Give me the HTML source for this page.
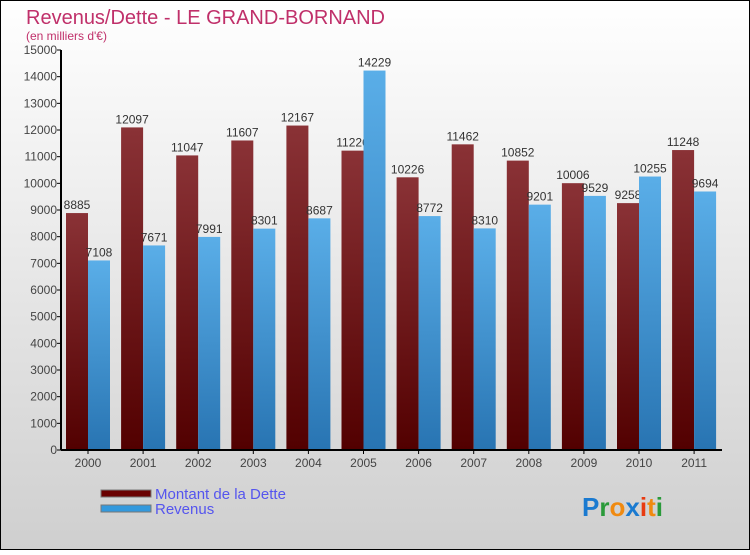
<!DOCTYPE html>
<html><head><meta charset="utf-8"><style>
body{margin:0;width:750px;height:550px;overflow:hidden;font-family:"Liberation Sans",sans-serif}
</style></head><body>
<svg width="750" height="550" xmlns="http://www.w3.org/2000/svg">
<defs>
<linearGradient id="bg" x1="0" y1="0" x2="0" y2="1"><stop offset="0" stop-color="#ffffff"/><stop offset="1" stop-color="#cfcfcf"/></linearGradient>
<linearGradient id="gd" x1="0" y1="0" x2="0" y2="1"><stop offset="0" stop-color="#8a3236"/><stop offset="1" stop-color="#520000"/></linearGradient>
<linearGradient id="gr" x1="0" y1="0" x2="0" y2="1"><stop offset="0" stop-color="#5aaee8"/><stop offset="1" stop-color="#2874b2"/></linearGradient>
</defs>
<rect x="0.5" y="0.5" width="749" height="549" fill="url(#bg)" stroke="#000"/>
<text x="26" y="24" font-size="20" fill="#c0306a">Revenus/Dette - LE GRAND-BORNAND</text>
<text x="26" y="40" font-size="12" fill="#c0306a">(en milliers d'€)</text>
<g id="yaxis"></g><g id="bars"></g>
<line x1="61" y1="50" x2="61" y2="450" stroke="#000" stroke-width="2"/>
<line x1="61" y1="450" x2="722" y2="450" stroke="#000" stroke-width="2"/>
<g>
<rect x="101" y="490" width="50" height="7" fill="#6a0000" stroke="#777"/>
<text x="155" y="499" font-size="15" fill="#5555ee">Montant de la Dette</text>
<rect x="101" y="505" width="50" height="7" fill="#3399dd" stroke="#777"/>
<text x="155" y="514" font-size="15" fill="#5555ee">Revenus</text>
</g>
<text x="582" y="516" font-size="26" font-weight="bold"><tspan fill="#1a7ad0">P</tspan><tspan fill="#2a9a3a">r</tspan><tspan fill="#f08a10">o</tspan><tspan fill="#1a7ad0">x</tspan><tspan fill="#e83a10">i</tspan><tspan fill="#f08a10">t</tspan><tspan fill="#2a9a3a">i</tspan></text>
</svg>
<script>
const years=["2000","2001","2002","2003","2004","2005","2006","2007","2008","2009","2010","2011"];
const dette=[8885,12097,11047,11607,12167,11226,10226,11462,10852,10006,9258,11248];
const revenus=[7108,7671,7991,8301,8687,14229,8772,8310,9201,9529,10255,9694];
const yTicks=[0,1000,2000,3000,4000,5000,6000,7000,8000,9000,10000,11000,12000,13000,14000,15000];
const NS="http://www.w3.org/2000/svg";
const y=v=>450-v*400/15000;
const gx=i=>61+i*55.1;
function mk(t,a,p,txt){const e=document.createElementNS(NS,t);for(const k in a)e.setAttribute(k,a[k]);if(txt!==undefined)e.textContent=txt;p.appendChild(e);return e;}
const ya=document.getElementById('yaxis');
yTicks.forEach(v=>{
 const l=mk('line',{x1:57,x2:61,y1:y(v),y2:y(v),stroke:'#000'},ya);
 
 
 const t=mk('text',{x:57,y:y(v)+4,'text-anchor':'end','font-size':12,fill:'#444'},ya,String(v));
 
 
});
const g=document.getElementById('bars');
years.forEach((yr,i)=>{
 const t=mk('text',{x:gx(i)+27,y:467,'text-anchor':'middle','font-size':12,fill:'#444'},g,yr);
 
 
 const tk=mk('line',{x1:gx(i)+27,x2:gx(i)+27,y1:450,y2:454,stroke:'#000'},g);
 
 
});
years.forEach((yr,i)=>{
 const r=mk('rect',{x:gx(i)+5,y:y(dette[i]),width:22,height:450-y(dette[i]),fill:'url(#gd)'},g);
 
 
 const t=mk('text',{x:gx(i)+16,y:y(dette[i])-4,'text-anchor':'middle','font-size':12,fill:'#333'},g,String(dette[i]));
 
 
});
years.forEach((yr,i)=>{
 const r=mk('rect',{x:gx(i)+27,y:y(revenus[i]),width:22,height:450-y(revenus[i]),fill:'url(#gr)'},g);
 
 
 const t=mk('text',{x:gx(i)+38,y:y(revenus[i])-4,'text-anchor':'middle','font-size':12,fill:'#333'},g,String(revenus[i]));
 
 
});
</script>
</body></html>
